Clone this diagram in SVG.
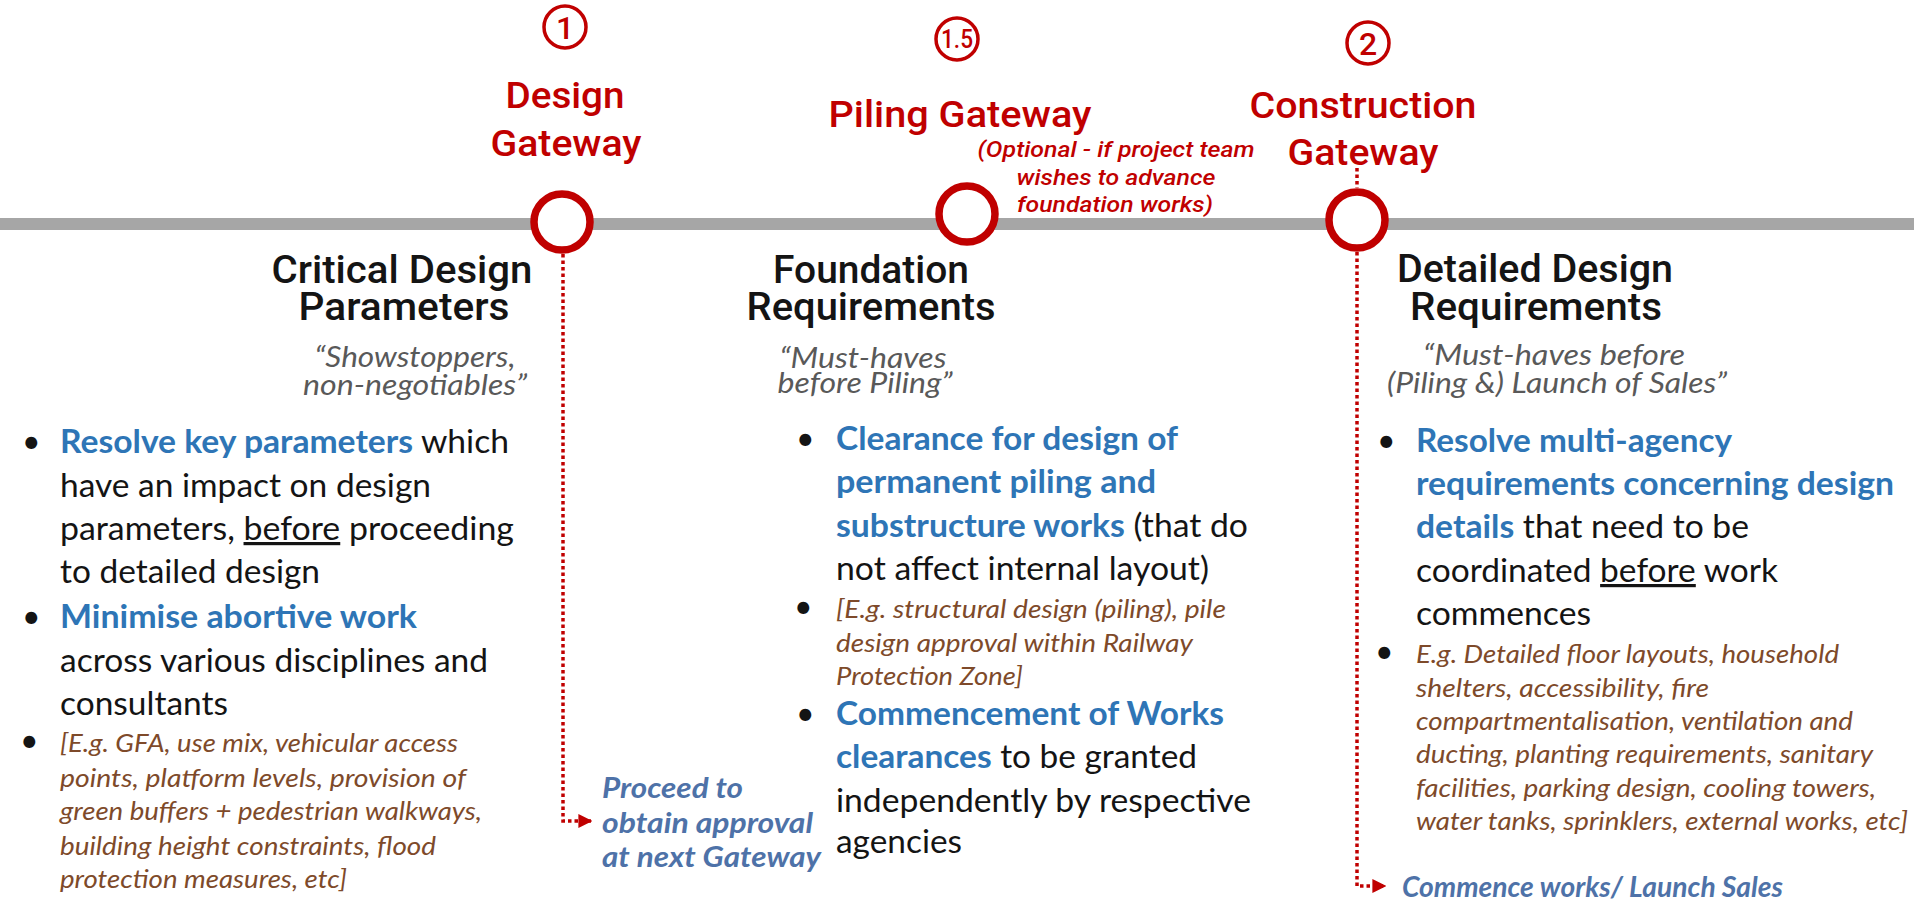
<svg xmlns="http://www.w3.org/2000/svg" width="1928" height="901" viewBox="0 0 1928 901">
<defs>
<style>
.gw{font-family:Roboto,"DejaVu Sans",sans-serif;font-weight:500;fill:#C00000;font-size:37px;text-anchor:middle}
.num{font-family:Roboto,"DejaVu Sans",sans-serif;font-weight:500;fill:#C00000;text-anchor:middle}
.opt{font-family:Roboto,"DejaVu Sans",sans-serif;font-style:italic;font-weight:500;fill:#C00000;font-size:22px;text-anchor:middle}
.hd{font-family:Roboto,"DejaVu Sans",sans-serif;font-weight:500;fill:#141414;font-size:38px;text-anchor:middle}
.qt{font-family:Lato,"Open Sans",sans-serif;font-style:italic;fill:#595959;font-size:29px;text-anchor:middle}
.bd{font-family:Lato,"Open Sans",sans-serif;fill:#141414;font-size:32px}
.bl{font-weight:700;fill:#2E75B6}
.it{font-family:Lato,"Open Sans",sans-serif;font-style:italic;fill:#7E4A2A;font-size:25px}
.pr{font-family:Lato,"Open Sans",sans-serif;font-style:italic;font-weight:700;fill:#4E72A8;font-size:28px}
.ring{fill:#fff;stroke:#C00000;stroke-width:7.5}
.nring{fill:none;stroke:#C00000;stroke-width:3.5}
.dot{fill:none;stroke:#C00000;stroke-width:3.5;stroke-dasharray:3.5 3}
</style>
<marker id="ah" viewBox="0 0 10 10" refX="9" refY="5" markerWidth="4" markerHeight="4" orient="auto" markerUnits="strokeWidth">
<path d="M0,0 L10,5 L0,10 z" fill="#C00000"/>
</marker>
</defs>
<rect width="1928" height="901" fill="#fff"/>

<!-- timeline -->
<rect x="0" y="218" width="1914" height="12" fill="#A6A6A6"/>

<g id="connectors">
<path class="dot" d="M563,254 V821 H591" marker-end="url(#ah)"/>
<path class="dot" d="M1357,168 V188"/>
<path class="dot" d="M1357,252 V886 H1385" marker-end="url(#ah)"/>
</g>

<g id="gateway-design">
<circle class="nring" cx="565" cy="27" r="21"/>
<text class="num" x="565" y="39" font-size="32">1</text>
<text class="gw" x="565" y="108" textLength="119" lengthAdjust="spacingAndGlyphs">Design</text>
<text class="gw" x="566" y="156" textLength="151" lengthAdjust="spacingAndGlyphs">Gateway</text>
<circle class="ring" cx="562" cy="222" r="28"/>
</g>

<g id="gateway-piling">
<circle class="nring" cx="957" cy="39" r="21"/>
<text class="num" x="957" y="48" font-size="26" textLength="32" lengthAdjust="spacingAndGlyphs">1.5</text>
<text class="gw" x="960" y="127" textLength="263" lengthAdjust="spacingAndGlyphs">Piling Gateway</text>
<text class="opt" x="1116" y="157" textLength="277" lengthAdjust="spacingAndGlyphs">(Optional - if project team</text>
<text class="opt" x="1116" y="185" textLength="199" lengthAdjust="spacingAndGlyphs">wishes to advance</text>
<text class="opt" x="1115" y="212" textLength="196" lengthAdjust="spacingAndGlyphs">foundation works)</text>
<circle class="ring" cx="967" cy="214" r="28"/>
</g>

<g id="gateway-construction">
<circle class="nring" cx="1368" cy="43" r="21"/>
<text class="num" x="1368" y="55" font-size="32">2</text>
<text class="gw" x="1363" y="118" textLength="227" lengthAdjust="spacingAndGlyphs">Construction</text>
<text class="gw" x="1363" y="165" textLength="151" lengthAdjust="spacingAndGlyphs">Gateway</text>
<circle class="ring" cx="1357" cy="220" r="28"/>
</g>

<g id="col-critical">
<text class="hd" x="402" y="283" textLength="261" lengthAdjust="spacingAndGlyphs">Critical Design</text>
<text class="hd" x="404" y="320" textLength="211" lengthAdjust="spacingAndGlyphs">Parameters</text>
<text class="qt" x="415" y="367" textLength="201" lengthAdjust="spacingAndGlyphs">“Showstoppers,</text>
<text class="qt" x="415" y="395" textLength="224" lengthAdjust="spacingAndGlyphs">non-negotiables”</text>
<text class="bd" x="22" y="453">•</text>
<text class="bd" x="60" y="453" textLength="449" lengthAdjust="spacingAndGlyphs"><tspan class="bl">Resolve key parameters</tspan> which</text>
<text class="bd" x="60" y="497" textLength="371" lengthAdjust="spacingAndGlyphs">have an impact on design</text>
<text class="bd" x="60" y="540" textLength="454" lengthAdjust="spacingAndGlyphs">parameters, <tspan text-decoration="underline">before</tspan> proceeding</text>
<text class="bd" x="60" y="583" textLength="260" lengthAdjust="spacingAndGlyphs">to detailed design</text>
<text class="bd" x="22" y="628">•</text>
<text class="bd" x="60" y="628" textLength="357" lengthAdjust="spacingAndGlyphs"><tspan class="bl">Minimise abortive work</tspan></text>
<text class="bd" x="60" y="672" textLength="428" lengthAdjust="spacingAndGlyphs">across various disciplines and</text>
<text class="bd" x="60" y="715" textLength="168" lengthAdjust="spacingAndGlyphs">consultants</text>
<text class="bd" x="20" y="752" font-size="24">•</text>
<text class="it" x="60" y="752" textLength="398" lengthAdjust="spacingAndGlyphs">[E.g. GFA, use mix, vehicular access</text>
<text class="it" x="60" y="787" textLength="406" lengthAdjust="spacingAndGlyphs">points, platform levels,  provision of</text>
<text class="it" x="60" y="820" textLength="422" lengthAdjust="spacingAndGlyphs">green buffers + pedestrian walkways,</text>
<text class="it" x="60" y="855" textLength="376" lengthAdjust="spacingAndGlyphs">building height constraints, flood</text>
<text class="it" x="60" y="888" textLength="287" lengthAdjust="spacingAndGlyphs">protection measures, etc]</text>
<text class="pr" x="602" y="798" textLength="141" lengthAdjust="spacingAndGlyphs">Proceed to</text>
<text class="pr" x="602" y="833" textLength="211" lengthAdjust="spacingAndGlyphs">obtain approval</text>
<text class="pr" x="602" y="867" textLength="219" lengthAdjust="spacingAndGlyphs">at next Gateway</text>
</g>

<g id="col-foundation">
<text class="hd" x="871" y="283" textLength="196" lengthAdjust="spacingAndGlyphs">Foundation</text>
<text class="hd" x="871" y="320" textLength="249" lengthAdjust="spacingAndGlyphs">Requirements</text>
<text class="qt" x="863" y="368" textLength="167" lengthAdjust="spacingAndGlyphs">“Must-haves</text>
<text class="qt" x="865" y="393" textLength="175" lengthAdjust="spacingAndGlyphs">before Piling”</text>
<text class="bd" x="796" y="450">•</text>
<text class="bd" x="836" y="450" textLength="342" lengthAdjust="spacingAndGlyphs"><tspan class="bl">Clearance for design of</tspan></text>
<text class="bd" x="836" y="493" textLength="320" lengthAdjust="spacingAndGlyphs"><tspan class="bl">permanent piling and</tspan></text>
<text class="bd" x="836" y="537" textLength="412" lengthAdjust="spacingAndGlyphs"><tspan class="bl">substructure works</tspan> (that do</text>
<text class="bd" x="836" y="580" textLength="373" lengthAdjust="spacingAndGlyphs">not affect internal layout)</text>
<text class="bd" x="794" y="618" font-size="24">•</text>
<text class="it" x="836" y="618" textLength="390" lengthAdjust="spacingAndGlyphs">[E.g. structural design (piling), pile</text>
<text class="it" x="836" y="652" textLength="357" lengthAdjust="spacingAndGlyphs">design approval within Railway</text>
<text class="it" x="836" y="685" textLength="187" lengthAdjust="spacingAndGlyphs">Protection Zone]</text>
<text class="bd" x="796" y="725">•</text>
<text class="bd" x="836" y="725" textLength="388" lengthAdjust="spacingAndGlyphs"><tspan class="bl">Commencement of Works</tspan></text>
<text class="bd" x="836" y="768" textLength="361" lengthAdjust="spacingAndGlyphs"><tspan class="bl">clearances</tspan> to be granted</text>
<text class="bd" x="836" y="812" textLength="415" lengthAdjust="spacingAndGlyphs">independently by respective</text>
<text class="bd" x="836" y="853" textLength="126" lengthAdjust="spacingAndGlyphs">agencies</text>
</g>

<g id="col-detailed">
<text class="hd" x="1535" y="282" textLength="276" lengthAdjust="spacingAndGlyphs">Detailed Design</text>
<text class="hd" x="1536" y="320" textLength="252" lengthAdjust="spacingAndGlyphs">Requirements</text>
<text class="qt" x="1554" y="365" textLength="262" lengthAdjust="spacingAndGlyphs">“Must-haves before</text>
<text class="qt" x="1557" y="393" textLength="340" lengthAdjust="spacingAndGlyphs">(Piling &amp;) Launch of Sales”</text>
<text class="bd" x="1377" y="452">•</text>
<text class="bd" x="1416" y="452" textLength="316" lengthAdjust="spacingAndGlyphs"><tspan class="bl">Resolve multi-agency</tspan></text>
<text class="bd" x="1416" y="495" textLength="478" lengthAdjust="spacingAndGlyphs"><tspan class="bl">requirements concerning design</tspan></text>
<text class="bd" x="1416" y="538" textLength="333" lengthAdjust="spacingAndGlyphs"><tspan class="bl">details</tspan> that need to be</text>
<text class="bd" x="1416" y="582" textLength="362" lengthAdjust="spacingAndGlyphs">coordinated <tspan text-decoration="underline">before</tspan> work</text>
<text class="bd" x="1416" y="625" textLength="175" lengthAdjust="spacingAndGlyphs">commences</text>
<text class="bd" x="1375" y="663" font-size="24">•</text>
<text class="it" x="1416" y="663" textLength="423" lengthAdjust="spacingAndGlyphs">E.g. Detailed floor layouts, household</text>
<text class="it" x="1416" y="697" textLength="293" lengthAdjust="spacingAndGlyphs">shelters, accessibility,  fire</text>
<text class="it" x="1416" y="730" textLength="437" lengthAdjust="spacingAndGlyphs">compartmentalisation, ventilation and</text>
<text class="it" x="1416" y="763" textLength="457" lengthAdjust="spacingAndGlyphs">ducting, planting requirements, sanitary</text>
<text class="it" x="1416" y="797" textLength="460" lengthAdjust="spacingAndGlyphs">facilities, parking design, cooling towers,</text>
<text class="it" x="1416" y="830" textLength="492" lengthAdjust="spacingAndGlyphs">water tanks, sprinklers, external works, etc]</text>
<text class="pr" x="1402" y="897" textLength="381" lengthAdjust="spacingAndGlyphs">Commence works/ Launch Sales</text>
</g>
</svg>
